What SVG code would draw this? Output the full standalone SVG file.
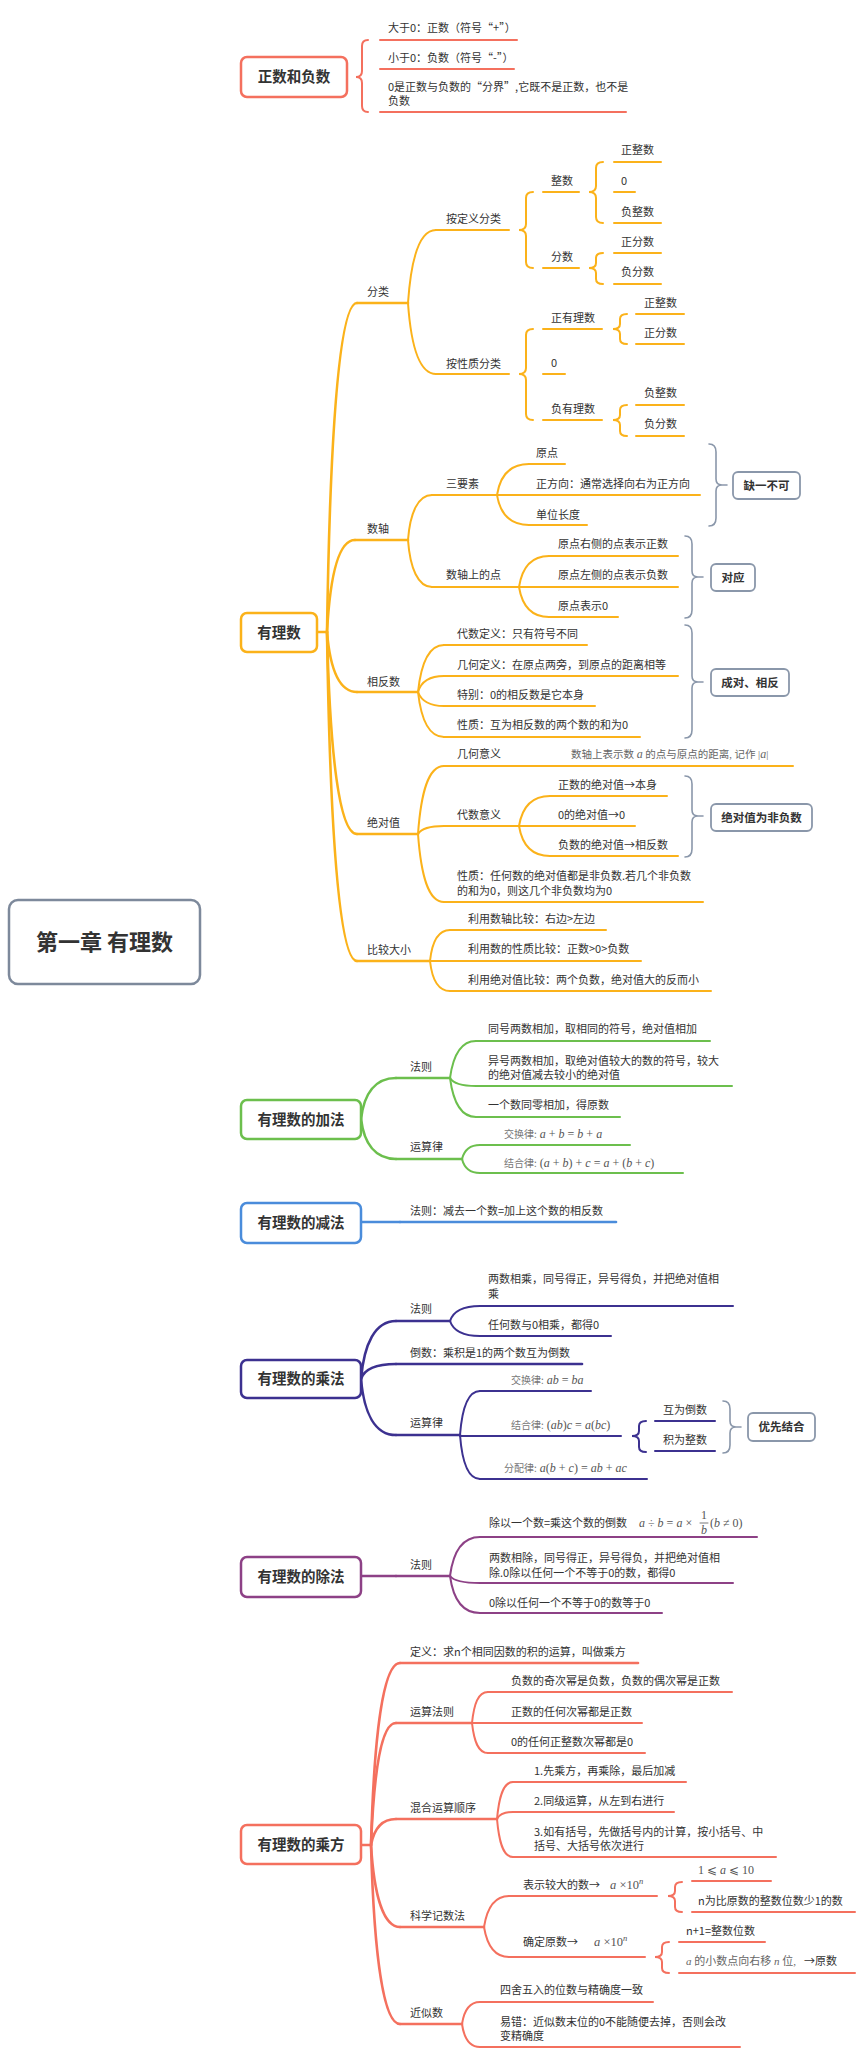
<svg xmlns="http://www.w3.org/2000/svg" width="860" height="2068" viewBox="0 0 860 2068">
<style>
.t{font-family:"Noto Sans CJK SC","Noto Sans",sans-serif;font-size:11px;fill:#333}
.tb{font-family:"Noto Sans CJK SC","Noto Sans",sans-serif;font-weight:bold;font-size:14.5px;fill:#333;text-anchor:middle}
.tc{font-family:"Noto Sans CJK SC","Noto Sans",sans-serif;font-weight:bold;font-size:22px;fill:#333;text-anchor:middle}
.ts{font-family:"Noto Sans CJK SC","Noto Sans",sans-serif;font-weight:bold;font-size:11.5px;fill:#333;text-anchor:middle}
.m{font-family:"Liberation Serif","DejaVu Serif","Noto Sans CJK SC",serif;font-size:12px;fill:#555}
.mi{font-style:italic}
.ml{font-family:"Noto Sans CJK SC",serif;font-size:10px;fill:#777}
path,line{fill:none;stroke-linecap:round}
.c1{stroke:#F4705E}.c2{stroke:#FBB21A}.c3{stroke:#6CBF4D}.c4{stroke:#4A8CDB}.c5{stroke:#3C3190}.c6{stroke:#8D4186}.cg{stroke:#8A97AA;stroke-width:1.6}
.w3{stroke-width:2.6}.w2{stroke-width:2}
.box{fill:#fff;stroke-width:2.5}
.sbox{fill:#fff;stroke:#8A97AA;stroke-width:1.8}
</style>

<g id="connectors">
  <!-- main tapered branches -->
  <path d="M105.5 942 C120 423 169 75.8 241 75.8 L241 78.2 C169 78.2 126 423 114.5 942Z" fill="#F4705E"/>
  <path d="M104.5 942 C119 756 169 630.5 241 630.5 L241 633.5 C169 633.5 127 756 115.5 942Z" fill="#FBB21A"/>
  <path d="M114.5 942 C126 1048 169 1118.3 241 1118.3 L241 1120.7 C169 1120.7 120 1048 105.5 942Z" fill="#6CBF4D"/>
  <path d="M114.5 942 C126 1111 169 1221.8 241 1221.8 L241 1224.2 C169 1224.2 120 1111 105.5 942Z" fill="#4A8CDB"/>
  <path d="M114.5 942 C126 1204 169 1377.8 241 1377.8 L241 1380.2 C169 1380.2 120 1204 105.5 942Z" fill="#3C3190"/>
  <path d="M114.5 942 C126 1323 169 1575.8 241 1575.8 L241 1578.2 C169 1578.2 120 1323 105.5 942Z" fill="#8D4186"/>
  <path d="M114.5 942 C126 1484 169 1843.8 241 1843.8 L241 1846.2 C169 1846.2 120 1484 105.5 942Z" fill="#F4705E"/>

  <!-- 正数和负数 brace -->
  <path class="c1 w2" d="M368 40 Q362 40 362 46 L362 71 Q362 77 356 77 Q362 77 362 83 L362 106 Q362 112 368 112"/>

  <!-- 有理数 -->
  <g class="c2 w3">
    <path d="M317 632 H327"/>
    <path d="M327 632 C330 435 339 303 357 303"/>
    <path d="M327 632 C330 577 338 540 355 540"/>
    <path d="M327 632 C330 668 339 692 357 692"/>
    <path d="M327 632 C330 753 339 834 357 834"/>
    <path d="M327 632 C330 829 339 961 357 961"/>
  </g>
  <g class="c2 w2">
    <path d="M408 303 C411 259 419 230 436 230"/>
    <path d="M408 303 C411 346 419 374 436 374"/>
    <path d="M533 192 Q526 192 526 198 L526 224 Q526 230 519 230 Q526 230 526 236 L526 262 Q526 268 533 268"/>
    <path d="M603 162 Q596 162 596 168 L596 186 Q596 192 589 192 Q596 192 596 198 L596 217 Q596 223 603 223"/>
    <path d="M603 253 Q596 253 596 258 L596 263 Q596 268 589 268 Q596 268 596 273 L596 279 Q596 284 603 284"/>
    <path d="M533 329 Q526 329 526 335 L526 368 Q526 374 519 374 Q526 374 526 380 L526 414 Q526 420 533 420"/>
    <path d="M627 314 Q620 314 620 319 L620 324 Q620 329 613 329 Q620 329 620 334 L620 339 Q620 344 627 344"/>
    <path d="M627 405 Q620 405 620 410 L620 415 Q620 420 613 420 Q620 420 620 425 L620 431 Q620 436 627 436"/>
    <path d="M408 540 C410 513 418 495 432 495"/>
    <path d="M408 540 C410 568 418 587 432 587"/>
    <path d="M497 495 C500 476 510 464 529 464"/>
    <path d="M497 495 C500 513 510 525 529 525"/>
    <path d="M519 587 C522 568 531 556 549 556"/>
    <path d="M519 587 C522 605 531 617 549 617"/>
    <path d="M418 692 C421 664 428 645 444 645"/>
    <path d="M418 692 C421 682 428 676 444 676"/>
    <path d="M418 692 C421 700 428 706 444 706"/>
    <path d="M418 692 C421 719 428 737 444 737"/>
    <path d="M418 834 C421 793 428 766 444 766"/>
    <path d="M418 834 C421 829 428 826 444 826"/>
    <path d="M418 834 C421 875 428 902 444 902"/>
    <path d="M519 826 C522 808 531 796 550 796"/>
    <path d="M519 826 C522 844 531 856 550 856"/>
    <path d="M430 961 C432 942 438 930 450 930"/>
    <path d="M430 961 C432 979 438 991 450 991"/>
  </g>
  <!-- grey summary braces -->
  <path class="cg" d="M709 444 Q716 444 716 452 L716 479 Q716 485 722 485 Q716 485 716 491 L716 518 Q716 526 709 526 M722 485 H727"/>
  <path class="cg" d="M685 536 Q692 536 692 544 L692 571 Q692 577 698 577 Q692 577 692 583 L692 610 Q692 618 685 618 M698 577 H703"/>
  <path class="cg" d="M685 625 Q692 625 692 633 L692 676 Q692 682 698 682 Q692 682 692 688 L692 730 Q692 738 685 738 M698 682 H703"/>
  <path class="cg" d="M685 776 Q692 776 692 784 L692 810 Q692 816 698 816 Q692 816 692 822 L692 849 Q692 857 685 857 M698 816 H703"/>
  <path class="cg" d="M723 1401 Q730 1401 730 1409 L730 1421 Q730 1427 736 1427 Q730 1427 730 1433 L730 1445 Q730 1453 723 1453 M736 1427 H741"/>

  <!-- 加法 -->
  <g class="c3">
    <path class="w3" d="M361 1119 C364 1094 375 1078 396 1078"/>
    <path class="w3" d="M361 1119 C364 1143 375 1159 396 1159"/>
    <path class="w2" d="M450 1078 C453 1056 460 1041 476 1041"/>
    <path class="w2" d="M450 1078 C453 1083 460 1086 476 1086"/>
    <path class="w2" d="M450 1078 C453 1101 460 1117 476 1117"/>
    <path class="w2" d="M462 1159 C464 1151 469 1145 480 1145"/>
    <path class="w2" d="M462 1159 C464 1167 469 1173 480 1173"/>
  </g>
  <!-- 减法 -->
  <path class="c4 w3" d="M361 1222 H400"/>
  <!-- 乘法 -->
  <g class="c5">
    <path class="w3" d="M361 1379 C364 1344 375 1321 396 1321"/>
    <path class="w3" d="M361 1379 C364 1370 375 1364 396 1364"/>
    <path class="w3" d="M361 1379 C364 1413 375 1435 396 1435"/>
    <path class="w2" d="M450 1321 C453 1312 462 1306 480 1306"/>
    <path class="w2" d="M450 1321 C453 1330 462 1336 480 1336"/>
    <path class="w2" d="M460 1435 C462 1409 468 1391 480 1391"/>
    <path class="w2" d="M460 1435 C462 1461 468 1479 480 1479"/>
    <path class="w2" d="M646 1421 Q639 1421 639 1426 L639 1431 Q639 1436 632 1436 Q639 1436 639 1441 L639 1447 Q639 1452 646 1452"/>
  </g>
  <!-- 除法 -->
  <g class="c6">
    <path class="w3" d="M361 1576 H396"/>
    <path class="w2" d="M450 1576 C453 1553 462 1537 480 1537"/>
    <path class="w2" d="M450 1576 C453 1580 462 1583 480 1583"/>
    <path class="w2" d="M450 1576 C453 1598 462 1613 480 1613"/>
  </g>
  <!-- 乘方 -->
  <g class="c1">
    <path class="w3" d="M361 1845 H371"/>
    <path class="w3" d="M371 1845 C374 1736 383 1663 400 1663"/>
    <path class="w3" d="M371 1845 C374 1772 381 1723 396 1723"/>
    <path class="w3" d="M371 1845 C374 1829 381 1819 396 1819"/>
    <path class="w3" d="M371 1845 C374 1894 383 1927 400 1927"/>
    <path class="w3" d="M371 1845 C374 1952 383 2024 400 2024"/>
    <path class="w2" d="M472 1723 C474 1704 478 1692 488 1692"/>
    <path class="w2" d="M472 1723 C474 1741 478 1753 488 1753"/>
    <path class="w2" d="M497 1819 C499 1797 503 1782 513 1782"/>
    <path class="w2" d="M497 1819 C499 1815 503 1812 513 1812"/>
    <path class="w2" d="M497 1819 C499 1842 503 1857 513 1857"/>
    <path class="w2" d="M484 1927 C487 1908 494 1896 509 1896"/>
    <path class="w2" d="M484 1927 C487 1945 494 1957 509 1957"/>
    <path class="w2" d="M462 2024 C464 2011 469 2002 480 2002"/>
    <path class="w2" d="M462 2024 C464 2038 469 2047 480 2047"/>
    <path class="w2" d="M682 1882 Q675 1882 675 1887 L675 1891 Q675 1896 668 1896 Q675 1896 675 1901 L675 1907 Q675 1912 682 1912"/>
    <path class="w2" d="M669 1942 Q662 1942 662 1947 L662 1952 Q662 1957 655 1957 Q662 1957 662 1962 L662 1968 Q662 1973 669 1973"/>
  </g>
</g>

<g id="central"><rect x="9" y="900" width="191" height="84" rx="9" fill="#fff" stroke="#7D899B" stroke-width="2.5"/><text class="tc" x="104.5" y="950">第一章 有理数</text></g>

<!-- 正数和负数 -->
<g id="zhengfu"><rect class="box c1" x="241" y="57" width="106" height="40" rx="6"/><text class="tb" x="294" y="82">正数和负数</text></g>
<g id="zf-1"><text class="t" x="388" y="32">大于0：正数（符号“+”）</text><path class="c1 w2" d="M380 40 H517"/></g>
<g id="zf-2"><text class="t" x="388" y="62">小于0：负数（符号“-”）</text><path class="c1 w2" d="M380 69 H514"/></g>
<g id="zf-3"><text class="t" x="388" y="91">0是正数与负数的“分界”,它既不是正数，也不是</text><text class="t" x="388" y="105">负数</text><path class="c1 w2" d="M380 112 H626"/></g>

<!-- 有理数 -->
<g id="youlishu"><rect class="box c2" x="241" y="613" width="76" height="39" rx="6"/><text class="tb" x="279" y="638">有理数</text></g>
<g id="fenlei"><text class="t" x="367" y="296">分类</text><path class="c2 w3" d="M357 303 H408"/></g>
<g id="dingyi"><text class="t" x="446" y="223">按定义分类</text><path class="c2 w2" d="M436 230 H509"/></g>
<g id="zhengshu"><text class="t" x="551" y="185">整数</text><path class="c2 w2" d="M543 192 H579"/></g>
<g id="fenshu"><text class="t" x="551" y="261">分数</text><path class="c2 w2" d="M543 268 H579"/></g>
<g id="zzs1"><text class="t" x="621" y="154">正整数</text><path class="c2 w2" d="M614 162 H661"/></g>
<g id="zero1"><text class="t" x="621" y="185">0</text><path class="c2 w2" d="M614 192 H635"/></g>
<g id="fzs1"><text class="t" x="621" y="216">负整数</text><path class="c2 w2" d="M614 223 H661"/></g>
<g id="zfs1"><text class="t" x="621" y="246">正分数</text><path class="c2 w2" d="M614 253 H661"/></g>
<g id="ffs1"><text class="t" x="621" y="276">负分数</text><path class="c2 w2" d="M614 284 H661"/></g>
<g id="xingzhi"><text class="t" x="446" y="368">按性质分类</text><path class="c2 w2" d="M436 374 H509"/></g>
<g id="zyls"><text class="t" x="551" y="322">正有理数</text><path class="c2 w2" d="M543 329 H602"/></g>
<g id="zero2"><text class="t" x="551" y="367">0</text><path class="c2 w2" d="M543 374 H565"/></g>
<g id="fyls"><text class="t" x="551" y="413">负有理数</text><path class="c2 w2" d="M543 420 H602"/></g>
<g id="zzs2"><text class="t" x="644" y="307">正整数</text><path class="c2 w2" d="M636 314 H684"/></g>
<g id="zfs2"><text class="t" x="644" y="337">正分数</text><path class="c2 w2" d="M636 344 H684"/></g>
<g id="fzs2"><text class="t" x="644" y="397">负整数</text><path class="c2 w2" d="M636 405 H684"/></g>
<g id="ffs2"><text class="t" x="644" y="428">负分数</text><path class="c2 w2" d="M636 436 H684"/></g>

<g id="shuzhou"><text class="t" x="367" y="533">数轴</text><path class="c2 w3" d="M355 540 H408"/></g>
<g id="sanyaosu"><text class="t" x="446" y="488">三要素</text><path class="c2 w2" d="M432 495 H497"/></g>
<g id="yuandian"><text class="t" x="536" y="457">原点</text><path class="c2 w2" d="M529 464 H565"/></g>
<g id="zfx"><text class="t" x="536" y="488">正方向：通常选择向右为正方向</text><path class="c2 w2" d="M497 495 H700"/></g>
<g id="dwcd"><text class="t" x="536" y="519">单位长度</text><path class="c2 w2" d="M529 525 H587"/></g>
<g id="quey"><rect class="sbox" x="733" y="472" width="67" height="27" rx="5"/><text class="ts" x="766.5" y="489.5">缺一不可</text></g>
<g id="szsdd"><text class="t" x="446" y="579">数轴上的点</text><path class="c2 w2" d="M432 587 H519"/></g>
<g id="yd1"><text class="t" x="558" y="548">原点右侧的点表示正数</text><path class="c2 w2" d="M549 556 H678"/></g>
<g id="yd2"><text class="t" x="558" y="579">原点左侧的点表示负数</text><path class="c2 w2" d="M519 587 H678"/></g>
<g id="yd3"><text class="t" x="558" y="610">原点表示0</text><path class="c2 w2" d="M549 617 H618"/></g>
<g id="duiying"><rect class="sbox" x="711" y="564" width="44" height="27" rx="5"/><text class="ts" x="733" y="581.5">对应</text></g>

<g id="xfs"><text class="t" x="367" y="686">相反数</text><path class="c2 w3" d="M357 692 H418"/></g>
<g id="xfs1"><text class="t" x="457" y="638">代数定义：只有符号不同</text><path class="c2 w2" d="M444 645 H587"/></g>
<g id="xfs2"><text class="t" x="457" y="669">几何定义：在原点两旁，到原点的距离相等</text><path class="c2 w2" d="M444 676 H678"/></g>
<g id="xfs3"><text class="t" x="457" y="699">特别：0的相反数是它本身</text><path class="c2 w2" d="M444 706 H595"/></g>
<g id="xfs4"><text class="t" x="457" y="729">性质：互为相反数的两个数的和为0</text><path class="c2 w2" d="M444 737 H640"/></g>
<g id="chengdui"><rect class="sbox" x="711" y="669" width="78" height="27" rx="5"/><text class="ts" x="750" y="686.5">成对、相反</text></g>

<g id="jdz"><text class="t" x="367" y="827">绝对值</text><path class="c2 w3" d="M357 834 H418"/></g>
<g id="jhyy"><text class="t" x="457" y="758">几何意义</text><text class="m" x="571" y="758" style="font-size:10.5px;fill:#666">数轴上表示数 <tspan class="mi" style="font-size:12px">a</tspan> 的点与原点的距离, 记作 |<tspan class="mi" style="font-size:12px">a</tspan>|</text><path class="c2 w2" d="M444 766 H793"/></g>
<g id="dsyy"><text class="t" x="457" y="819">代数意义</text><path class="c2 w2" d="M444 826 H519"/></g>
<g id="jd1"><text class="t" x="558" y="789">正数的绝对值→本身</text><path class="c2 w2" d="M550 796 H667"/></g>
<g id="jd2"><text class="t" x="558" y="819">0的绝对值→0</text><path class="c2 w2" d="M519 826 H635"/></g>
<g id="jd3"><text class="t" x="558" y="849">负数的绝对值→相反数</text><path class="c2 w2" d="M550 856 H678"/></g>
<g id="feifu"><rect class="sbox" x="711" y="804" width="101" height="27" rx="5"/><text class="ts" x="761.5" y="821.5">绝对值为非负数</text></g>
<g id="jdxz"><text class="t" x="457" y="880">性质：任何数的绝对值都是非负数.若几个非负数</text><text class="t" x="457" y="895">的和为0，则这几个非负数均为0</text><path class="c2 w2" d="M444 902 H703"/></g>

<g id="bjdx"><text class="t" x="367" y="954">比较大小</text><path class="c2 w3" d="M357 961 H430"/></g>
<g id="bj1"><text class="t" x="468" y="923">利用数轴比较：右边&gt;左边</text><path class="c2 w2" d="M450 930 H606"/></g>
<g id="bj2"><text class="t" x="468" y="953">利用数的性质比较：正数&gt;0&gt;负数</text><path class="c2 w2" d="M430 961 H641"/></g>
<g id="bj3"><text class="t" x="468" y="984">利用绝对值比较：两个负数，绝对值大的反而小</text><path class="c2 w2" d="M450 991 H711"/></g>

<!-- 加法 -->
<g id="jiafa"><rect class="box c3" x="241" y="1100" width="120" height="39" rx="6"/><text class="tb" x="301" y="1125">有理数的加法</text></g>
<g id="jf-fz"><text class="t" x="410" y="1071">法则</text><path class="c3 w3" d="M396 1078 H450"/></g>
<g id="jf1"><text class="t" x="488" y="1033">同号两数相加，取相同的符号，绝对值相加</text><path class="c3 w2" d="M476 1041 H710"/></g>
<g id="jf2"><text class="t" x="488" y="1065">异号两数相加，取绝对值较大的数的符号，较大</text><text class="t" x="488" y="1079">的绝对值减去较小的绝对值</text><path class="c3 w2" d="M476 1086 H732"/></g>
<g id="jf3"><text class="t" x="488" y="1109">一个数同零相加，得原数</text><path class="c3 w2" d="M476 1117 H620"/></g>
<g id="jf-ysl"><text class="t" x="410" y="1151">运算律</text><path class="c3 w3" d="M396 1159 H462"/></g>
<g id="jf4"><text x="504" y="1138"><tspan class="ml">交换律:</tspan><tspan class="m"> <tspan class="mi">a</tspan> + <tspan class="mi">b</tspan> = <tspan class="mi">b</tspan> + <tspan class="mi">a</tspan></tspan></text><path class="c3 w2" d="M480 1145 H630"/></g>
<g id="jf5"><text x="504" y="1167"><tspan class="ml">结合律:</tspan><tspan class="m"> (<tspan class="mi">a</tspan> + <tspan class="mi">b</tspan>) + <tspan class="mi">c</tspan> = <tspan class="mi">a</tspan> + (<tspan class="mi">b</tspan> + <tspan class="mi">c</tspan>)</tspan></text><path class="c3 w2" d="M480 1173 H683"/></g>

<!-- 减法 -->
<g id="jianfa"><rect class="box c4" x="241" y="1203" width="120" height="40" rx="6"/><text class="tb" x="301" y="1228">有理数的减法</text></g>
<g id="jian1"><text class="t" x="410" y="1215">法则：减去一个数=加上这个数的相反数</text><path class="c4 w3" d="M400 1222 H616"/></g>

<!-- 乘法 -->
<g id="chengfa"><rect class="box c5" x="241" y="1360" width="120" height="38" rx="6"/><text class="tb" x="301" y="1384">有理数的乘法</text></g>
<g id="cf-fz"><text class="t" x="410" y="1313">法则</text><path class="c5 w3" d="M396 1321 H450"/></g>
<g id="cf1"><text class="t" x="488" y="1283">两数相乘，同号得正，异号得负，并把绝对值相</text><text class="t" x="488" y="1298">乘</text><path class="c5 w2" d="M480 1306 H733"/></g>
<g id="cf2"><text class="t" x="488" y="1329">任何数与0相乘，都得0</text><path class="c5 w2" d="M480 1336 H611"/></g>
<g id="cf-ds"><text class="t" x="410" y="1357">倒数：乘积是1的两个数互为倒数</text><path class="c5 w3" d="M396 1364 H582"/></g>
<g id="cf-ysl"><text class="t" x="410" y="1427">运算律</text><path class="c5 w3" d="M396 1435 H460"/></g>
<g id="cf3"><text x="511" y="1384"><tspan class="ml">交换律:</tspan><tspan class="m"> <tspan class="mi">ab</tspan> = <tspan class="mi">ba</tspan></tspan></text><path class="c5 w2" d="M480 1391 H591"/></g>
<g id="cf4"><text x="511" y="1429"><tspan class="ml">结合律:</tspan><tspan class="m"> (<tspan class="mi">ab</tspan>)<tspan class="mi">c</tspan> = <tspan class="mi">a</tspan>(<tspan class="mi">bc</tspan>)</tspan></text><path class="c5 w2" d="M460 1436 H621"/></g>
<g id="cf5"><text x="504" y="1472"><tspan class="ml">分配律:</tspan><tspan class="m"> <tspan class="mi">a</tspan>(<tspan class="mi">b</tspan> + <tspan class="mi">c</tspan>) = <tspan class="mi">ab</tspan> + <tspan class="mi">ac</tspan></tspan></text><path class="c5 w2" d="M480 1479 H647"/></g>
<g id="cf6"><text class="t" x="663" y="1414">互为倒数</text><path class="c5 w2" d="M655 1421 H715"/></g>
<g id="cf7"><text class="t" x="663" y="1444">积为整数</text><path class="c5 w2" d="M655 1451 H715"/></g>
<g id="youxian"><rect class="sbox" x="748" y="1413" width="67" height="28" rx="5"/><text class="ts" x="781.5" y="1431">优先结合</text></g>

<!-- 除法 -->
<g id="chufa"><rect class="box c6" x="241" y="1557" width="120" height="40" rx="6"/><text class="tb" x="301" y="1582">有理数的除法</text></g>
<g id="chf-fz"><text class="t" x="410" y="1569">法则</text><path class="c6 w3" d="M396 1576 H450"/></g>
<g id="chf1"><text class="t" x="489" y="1527">除以一个数=乘这个数的倒数</text>
  <text class="m" x="639" y="1527"><tspan class="mi">a</tspan> ÷ <tspan class="mi">b</tspan> = <tspan class="mi">a</tspan> ×</text>
  <text class="m" x="704" y="1519" text-anchor="middle">1</text><line x1="700" y1="1523" x2="708" y2="1523" stroke="#555" stroke-width="0.8"/><text class="m mi" x="704" y="1534" text-anchor="middle">b</text>
  <text class="m" x="710" y="1527">(<tspan class="mi">b</tspan> ≠ 0)</text>
  <path class="c6 w2" d="M480 1537 H757"/></g>
<g id="chf2"><text class="t" x="489" y="1562">两数相除，同号得正，异号得负，并把绝对值相</text><text class="t" x="489" y="1577">除.0除以任何一个不等于0的数，都得0</text><path class="c6 w2" d="M480 1583 H733"/></g>
<g id="chf3"><text class="t" x="489" y="1607">0除以任何一个不等于0的数等于0</text><path class="c6 w2" d="M480 1613 H662"/></g>

<!-- 乘方 -->
<g id="chengfang"><rect class="box c1" x="241" y="1825" width="120" height="39" rx="6"/><text class="tb" x="301" y="1850">有理数的乘方</text></g>
<g id="cfg-dy"><text class="t" x="410" y="1656">定义：求n个相同因数的积的运算，叫做乘方</text><path class="c1 w3" d="M400 1663 H638"/></g>
<g id="cfg-ysfz"><text class="t" x="410" y="1716">运算法则</text><path class="c1 w3" d="M396 1723 H472"/></g>
<g id="cfg1"><text class="t" x="511" y="1685">负数的奇次幂是负数，负数的偶次幂是正数</text><path class="c1 w2" d="M488 1692 H732"/></g>
<g id="cfg2"><text class="t" x="511" y="1716">正数的任何次幂都是正数</text><path class="c1 w2" d="M472 1723 H642"/></g>
<g id="cfg3"><text class="t" x="511" y="1746">0的任何正整数次幂都是0</text><path class="c1 w2" d="M488 1753 H645"/></g>
<g id="cfg-hh"><text class="t" x="410" y="1812">混合运算顺序</text><path class="c1 w3" d="M396 1819 H497"/></g>
<g id="cfg4"><text class="t" x="534" y="1775">1.先乘方，再乘除，最后加减</text><path class="c1 w2" d="M513 1782 H686"/></g>
<g id="cfg5"><text class="t" x="534" y="1805">2.同级运算，从左到右进行</text><path class="c1 w2" d="M513 1812 H674"/></g>
<g id="cfg6"><text class="t" x="534" y="1836">3.如有括号，先做括号内的计算，按小括号、中</text><text class="t" x="534" y="1850">括号、大括号依次进行</text><path class="c1 w2" d="M513 1857 H776"/></g>
<g id="cfg-kx"><text class="t" x="410" y="1920">科学记数法</text><path class="c1 w3" d="M400 1927 H484"/></g>
<g id="cfg7"><text class="t" x="523" y="1889">表示较大的数→</text><text class="m" x="610" y="1889" style="font-size:12.5px"><tspan class="mi">a</tspan> ×10<tspan class="mi" dy="-5" style="font-size:8.5px">n</tspan></text><path class="c1 w2" d="M509 1896 H657"/></g>
<g id="cfg8"><text class="m" x="698" y="1874" style="font-size:12px">1 ⩽ <tspan class="mi">a</tspan> ⩽ 10</text><path class="c1 w2" d="M692 1881 H771"/></g>
<g id="cfg9"><text class="t" x="698" y="1905">n为比原数的整数位数少1的数</text><path class="c1 w2" d="M692 1912 H855"/></g>
<g id="cfg10"><text class="t" x="523" y="1946">确定原数→</text><text class="m" x="594" y="1946" style="font-size:12.5px"><tspan class="mi">a</tspan> ×10<tspan class="mi" dy="-5" style="font-size:8.5px">n</tspan></text><path class="c1 w2" d="M509 1957 H645"/></g>
<g id="cfg11"><text class="t" x="686" y="1935">n+1=整数位数</text><path class="c1 w2" d="M679 1942 H765"/></g>
<g id="cfg12"><text x="686" y="1965"><tspan class="m" style="fill:#666;font-size:11px"><tspan class="mi">a</tspan> 的小数点向右移 <tspan class="mi">n</tspan> 位,</tspan><tspan class="t" dx="8">→原数</tspan></text><path class="c1 w2" d="M679 1973 H855"/></g>
<g id="cfg-js"><text class="t" x="410" y="2017">近似数</text><path class="c1 w3" d="M400 2024 H462"/></g>
<g id="cfg13"><text class="t" x="500" y="1994">四舍五入的位数与精确度一致</text><path class="c1 w2" d="M480 2002 H653"/></g>
<g id="cfg14"><text class="t" x="500" y="2026">易错：近似数末位的0不能随便去掉，否则会改</text><text class="t" x="500" y="2040">变精确度</text><path class="c1 w2" d="M480 2047 H740"/></g>
</svg>
